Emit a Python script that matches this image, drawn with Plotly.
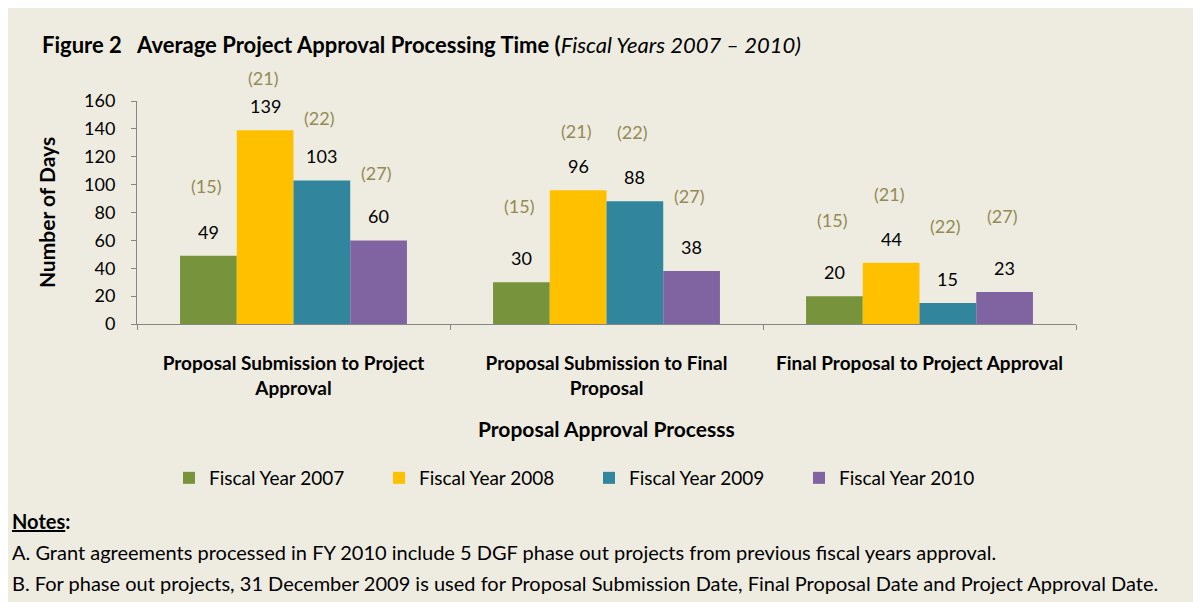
import plotly.graph_objects as go

categories = ["Proposal Submission to Project<br>Approval",
              "Proposal Submission to Final<br>Proposal",
              "Final Proposal to Project Approval"]
series_names = ["Fiscal Year 2007", "Fiscal Year 2008", "Fiscal Year 2009", "Fiscal Year 2010"]
days_2007 = [49, 30, 20]
days_2008 = [139, 96, 44]
days_2009 = [103, 88, 15]
days_2010 = [60, 38, 23]
counts = [15, 21, 22, 27]

series_values = [days_2007, days_2008, days_2009, days_2010]
colors = ["#77933C", "#FFC000", "#31859C", "#8064A2"]
# pixel offsets of the "(n)" labels above the value labels, per series per category
count_shift = [[46, 52, 52], [28, 35, 45], [38, 45, 53], [43, 51, 52]]

FONT = "Lato"
BG = "#EEECE1"

# figure geometry (page has an 8px body margin)
W, H = 1193, 594
OFF = 8
ml, mr, mt, mb = 129, 125, 93, 278
pw, ph = W - ml - mr, H - mt - mb


def px(x):  # reference page pixel -> paper fraction
    return (x - OFF - ml) / pw


def py(y):
    return (H - mb - (y - OFF)) / ph


fig = go.Figure()
for i, (name, vals) in enumerate(zip(series_names, series_values)):
    fig.add_trace(go.Bar(
        x=categories, y=vals, name=name,
        marker=dict(color=colors[i], line=dict(width=0)),
    ))

bar_px = pw / 3 * (1 - 0.275) / 4
for i, vals in enumerate(series_values):
    off = -1.5 + i
    for j, v in enumerate(vals):
        fig.add_annotation(
            x=j, y=v, xref="x", yref="y", text=str(v), showarrow=False,
            xshift=off * bar_px, yshift=24,
            font=dict(family=FONT, size=18, color="#000000"))
        fig.add_annotation(
            x=j, y=v, xref="x", yref="y", text="(%d)" % counts[i], showarrow=False,
            xshift=off * bar_px - 2, yshift=24 + count_shift[i][j],
            font=dict(family=FONT, size=18, color="#948A54"))

fig.add_annotation(
    x=px(40), y=py(45), xref="paper", yref="paper", showarrow=False,
    xanchor="left", yanchor="middle",
    text="<b>Figure 2   Average Project Approval Processing Time (</b><i>Fiscal Years 2007 \u2013 2010)</i>",
    font=dict(family=FONT, size=22, color="#000000"))
fig.add_annotation(
    x=0.5, y=py(428), xref="paper", yref="paper", text="<b>Proposal Approval Processs</b>",
    showarrow=False, yanchor="middle", font=dict(family=FONT, size=21, color="#000000"))

notes = [
    ("<b><u>Notes</u>:</b>", 521),
    ("A. Grant agreements processed in FY 2010 include 5 DGF phase out projects from previous fiscal years approval.", 552),
    ("B. For phase out projects, 31 December 2009 is used for Proposal Submission Date, Final Proposal Date and Project Approval Date.", 583),
]
for t, yy in notes:
    fig.add_annotation(x=px(10), y=py(yy), xref="paper", yref="paper", text=t,
                       showarrow=False, xanchor="left", yanchor="middle",
                       font=dict(family=FONT, size=20, color="#000000"))

fig.update_layout(
    width=W, height=H,
    paper_bgcolor=BG, plot_bgcolor=BG,
    margin=dict(l=ml, r=mr, t=mt, b=mb, pad=0),
    barmode="group", bargap=0.275, bargroupgap=0,
    font=dict(family=FONT, size=18, color="#000000"),
    showlegend=True,
    legend=dict(orientation="h", x=px(169), y=py(478), xanchor="left", yanchor="middle",
                entrywidth=165, entrywidthmode="pixels", bgcolor="rgba(0,0,0,0)",
                font=dict(family=FONT, size=19, color="#000000"), itemclick=False),
    xaxis=dict(
        showline=True, linecolor="#868686", linewidth=1,
        ticks="outside", ticklen=5, tickcolor="#868686", tickson="boundaries",
        tickfont=dict(family=FONT, size=19, color="#000000"),
        ticklabelstandoff=22, showgrid=False, zeroline=False,
        tickvals=categories, ticktext=["<b>" + c + "</b>" for c in categories],
    ),
    yaxis=dict(
        range=[0, 160], dtick=20, showline=True, linecolor="#868686", linewidth=1,
        ticks="outside", ticklen=5, tickcolor="#868686", showgrid=False, zeroline=False,
        tickfont=dict(family=FONT, size=18, color="#000000"), ticklabelstandoff=12,
        title=dict(text="<b>Number of Days</b>", font=dict(family=FONT, size=21, color="#000000"), standoff=22),
    ),
)

fig.write_html("out.html")
